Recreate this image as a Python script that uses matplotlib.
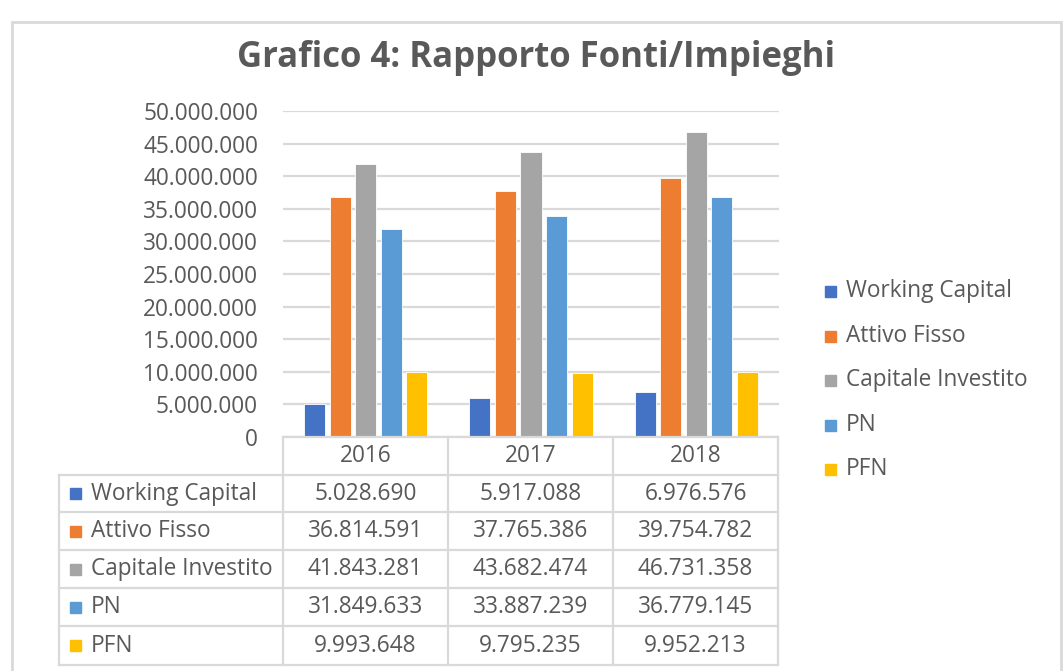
import matplotlib
matplotlib.use("Agg")
import matplotlib.pyplot as plt
from matplotlib.patches import Rectangle
from matplotlib.lines import Line2D
import numpy as np

years = ["2016", "2017", "2018"]
series = ["Working Capital", "Attivo Fisso", "Capitale Investito", "PN", "PFN"]
working_capital = [5028690, 5917088, 6976576]
attivo_fisso = [36814591, 37765386, 39754782]
capitale_investito = [41843281, 43682474, 46731358]
pn = [31849633, 33887239, 36779145]
pfn = [9993648, 9795235, 9952213]
values = [working_capital, attivo_fisso, capitale_investito, pn, pfn]
colors = ["#4472C4", "#ED7D31", "#A5A5A5", "#5B9BD5", "#FFC000"]
yticks = list(range(0, 50000001, 5000000))

W, H = 1064, 671
FONT = ["Open Sans", "DejaVu Sans"]
TXT = "#595959"
GRID = "#D9D9D9"
FS = 16.3

fig = plt.figure(figsize=(W / 100, H / 100), dpi=100)
plt.rcParams["font.family"] = FONT


def fx(x):
    return x / W


def fy(y):
    return 1 - y / H


def fmt(v):
    return f"{v:,.0f}".replace(",", ".")


# outer chart frame
fig.add_artist(Rectangle((fx(12), fy(700)), fx(1061) - fx(12), fy(22) - fy(700),
                         transform=fig.transFigure, fill=False, edgecolor="#D9D9D9", lw=2))

# title
fig.text(fx(536), fy(58), "Grafico 4: Rapporto Fonti/Impieghi", ha="center", va="center",
         fontsize=25, fontweight="bold", color=TXT)

# plot area
x0, x1, ytop, ybot = 283, 779, 111, 437
ax = fig.add_axes([fx(x0), fy(ybot), fx(x1) - fx(x0), fy(ytop) - fy(ybot)])
ax.set_xlim(-0.5, 2.5)
ax.set_ylim(0, 50000000)
ax.set_yticks(yticks)
ax.set_yticklabels([fmt(v) for v in yticks], fontsize=FS, color=TXT)
ax.tick_params(axis="y", length=0, pad=18)
ax.set_xticks([])
for s in ax.spines.values():
    s.set_visible(False)
ax.yaxis.grid(True, color=GRID, lw=1.6)
ax.set_axisbelow(True)

x = np.arange(len(years))
pitch = 0.1545
bw = 0.128
for i, (name, vals, c) in enumerate(zip(series, values, colors)):
    ax.bar(x + (i - 2) * pitch, vals, width=bw, color=c, edgecolor="white", lw=0.6, label=name)

# legend
leg_y = [291, 336, 380, 425, 469]
for name, c, yy in zip(series, colors, leg_y):
    fig.add_artist(Rectangle((fx(825), fy(yy + 5.5)), fx(11), fy(0) - fy(11),
                             transform=fig.transFigure, color=c))
    fig.text(fx(846), fy(yy), name, ha="left", va="center", fontsize=FS, color=TXT)

# data table
col_x = [59, 283, 448, 613, 778]
row_y = [437, 475, 512, 550, 588, 626, 665]


def hline(y, xa, xb):
    fig.add_artist(Line2D([fx(xa), fx(xb)], [fy(y), fy(y)], transform=fig.transFigure,
                          color=GRID, lw=1.6))


def vline(x, ya, yb):
    fig.add_artist(Line2D([fx(x), fx(x)], [fy(ya), fy(yb)], transform=fig.transFigure,
                          color=GRID, lw=1.6))


hline(row_y[0], col_x[1], col_x[-1])
for yy in row_y[1:]:
    hline(yy, col_x[0], col_x[-1])
vline(col_x[0], row_y[1], row_y[-1])
for xx in col_x[1:]:
    vline(xx, row_y[0], row_y[-1])

for j, yr in enumerate(years):
    cx = (col_x[j + 1] + col_x[j + 2]) / 2
    fig.text(fx(cx), fy((row_y[0] + row_y[1]) / 2), yr, ha="center", va="center",
             fontsize=FS, color=TXT)

for i, (name, vals, c) in enumerate(zip(series, values, colors)):
    cy = (row_y[i + 1] + row_y[i + 2]) / 2
    fig.add_artist(Rectangle((fx(70), fy(cy + 5.5)), fx(11), fy(0) - fy(11),
                             transform=fig.transFigure, color=c))
    fig.text(fx(91), fy(cy), name, ha="left", va="center", fontsize=FS, color=TXT)
    for j, v in enumerate(vals):
        cx = (col_x[j + 1] + col_x[j + 2]) / 2
        fig.text(fx(cx), fy(cy), fmt(v), ha="center", va="center", fontsize=FS, color=TXT)

fig.savefig("out.png", dpi=100, facecolor="white")
